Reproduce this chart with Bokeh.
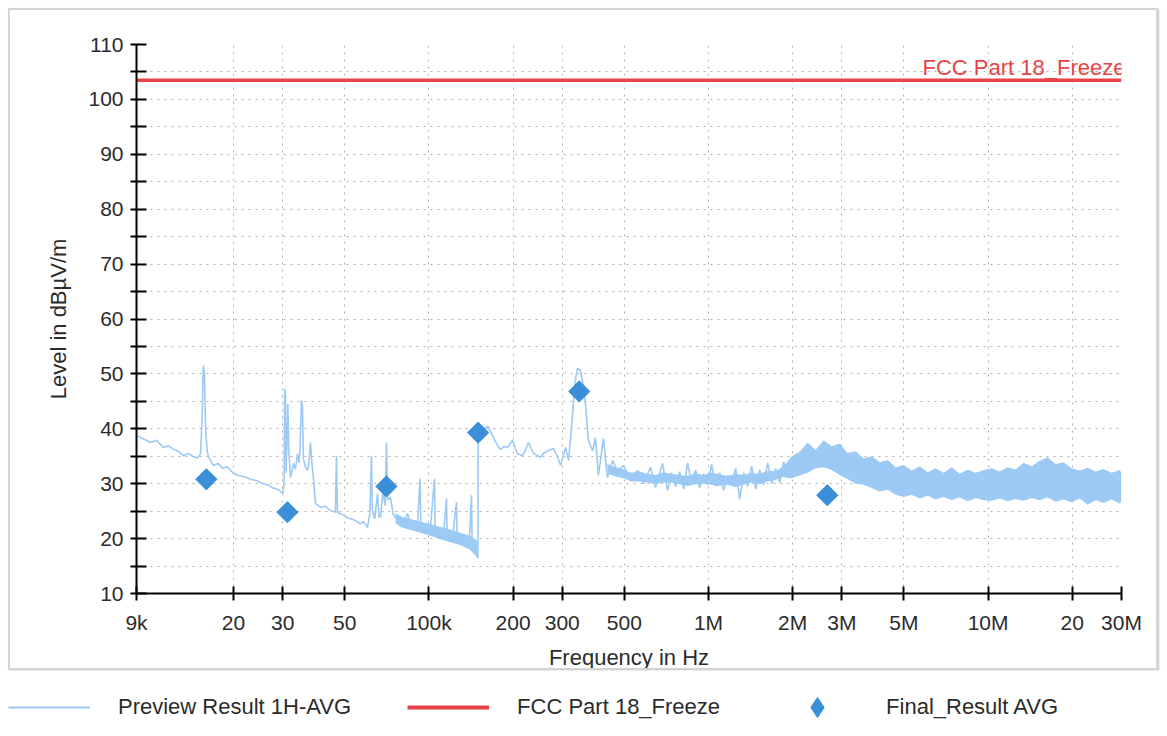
import numpy as np
from bokeh.plotting import figure
from bokeh.models import FixedTicker, Range1d, Legend, LegendItem, Label
from bokeh.layouts import column
from bokeh.embed import file_html
from bokeh.resources import INLINE

# ---------------- data ----------------
x_ticks = [9000, 20000, 30000, 50000, 100000, 200000, 300000, 500000,
           1000000, 2000000, 3000000, 5000000, 10000000, 20000000, 30000000]
x_tick_labels = ["9k", "20", "30", "50", "100k", "200", "300", "500",
                 "1M", "2M", "3M", "5M", "10M", "20", "30M"]
y_ticks = [10, 20, 30, 40, 50, 60, 70, 80, 90, 100, 110]
y_minor_ticks = [15, 25, 35, 45, 55, 65, 75, 85, 95, 105]
y_grid_ticks = [10, 15, 20, 25, 30, 35, 40, 45, 50, 55, 60, 65, 70, 75, 80,
                85, 90, 95, 100, 105, 110]

# Preview Result 1H-AVG (trace, 9 kHz .. 2 MHz)
preview_freq = [
    9000, 9500, 10100, 10600, 11240, 11700, 12200, 12700, 13260, 13800, 14400,
    14900, 15250, 15450, 15600, 15750, 15900, 16100, 16300, 16970, 17600, 18300,
    19000, 19800, 20700, 21800, 23000, 24300, 25600, 26700, 27800, 29000, 30000,
    30350, 30500, 30700, 30850, 31100, 31300, 31550, 32000, 32800, 33300, 33900,
    34300, 34600, 35000, 35300, 35600, 36200, 36800, 37300, 37700, 38200, 38700,
    39300, 40000, 41000, 42500, 44500, 46300, 46700, 47100, 49000, 51200, 53500,
    56900, 58500, 60300, 61500, 62300, 62800, 64000, 65500, 66300, 67100, 68500,
    69800, 70500, 71200, 72900, 74500, 76000, 79200, 81500, 83800, 86000, 88100,
    91000, 93000, 93600, 96000, 98800, 101000, 104700, 105300, 110000, 113000,
    115600, 116200, 119400, 122000, 125500, 126200, 129000, 133000, 137000,
    140000, 142000, 142800, 144400, 147000, 149200, 149800, 150000, 153000,
    157000, 163000, 170000, 175000, 180000, 186000, 191000, 199000, 207000,
    216000, 221000, 227000, 237000, 251000, 258000, 266000, 279000, 288000,
    296000, 308000, 316000, 326000, 333000, 340000, 349000, 356000, 363000,
    372000, 385000, 394000, 404000, 421000, 435000, 454000, 473000, 497000,
    526000, 557000, 586000, 620000, 646000, 685000, 714000, 738000, 763000,
    788000, 815000, 842000, 870000, 899000, 929000, 961000, 993000, 1026000,
    1061000, 1096000, 1133000, 1171000, 1210000, 1251000, 1293000, 1336000,
    1381000, 1427000, 1475000, 1524000, 1575000, 1628000, 1683000, 1739000,
    1797000, 1857000, 1920000, 1984000]
preview_level = [
    38.8, 38.2, 37.5, 37.9, 36.6, 36.9, 36.3, 35.9, 35.1, 35.5, 34.9,
    34.7, 35.4, 42.0, 51.5, 50.2, 40.0, 36.0, 34.8, 33.3, 33.7, 32.8,
    33.1, 32.1, 31.5, 31.3, 30.8, 30.5, 30.0, 29.7, 29.2, 28.9, 28.2,
    30.0, 47.3, 46.0, 32.0, 38.4, 44.5, 36.0, 31.1, 33.7, 32.6, 35.5,
    33.8, 36.0, 45.2, 44.0, 34.5, 33.0, 32.4, 34.2, 37.5, 33.5, 30.6,
    26.4, 26.1, 25.7, 25.9, 25.1, 24.8, 35.1, 24.8, 24.4, 23.8, 23.5,
    22.7, 23.1, 22.0, 24.6, 35.1, 25.0, 23.6, 28.2, 24.0, 23.9, 28.5,
    26.0, 37.5, 27.0, 27.5, 24.5, 23.8, 23.3, 22.6, 24.6, 22.5, 22.0,
    22.4, 30.9, 22.2, 21.5, 22.0, 21.3, 30.9, 21.6, 20.9, 21.3,
    27.3, 20.6, 20.2, 21.0, 26.6, 20.3, 19.8, 20.1, 19.3,
    21.0, 27.9, 19.0, 18.4, 17.6, 16.9, 16.4, 39.3, 39.6,
    40.1, 40.4, 38.4, 37.2, 36.2, 36.8, 36.6, 37.9, 35.5,
    35.1, 36.0, 37.5, 35.5, 34.8, 35.6, 36.0, 36.4, 35.0,
    33.3, 36.6, 34.2, 42.1, 48.5, 51.0, 50.6, 48.0, 44.6,
    37.9, 36.0, 38.4, 31.5, 38.2, 31.1, 34.2, 32.4, 33.3,
    30.6, 32.4, 30.0, 33.0, 29.3, 33.7, 28.8, 32.0, 29.5,
    32.2, 29.0, 33.8, 30.0, 32.5, 29.2, 31.8, 29.8, 33.5,
    29.5, 32.0, 28.8, 31.5, 30.2, 32.8, 27.2, 32.0,
    29.5, 33.2, 29.0, 32.5, 29.8, 33.8, 30.0, 32.8,
    30.2, 34.0, 31.0, 34.8]

# Preview Result 1H-AVG, dense part of the trace 80 kHz .. 150 kHz (envelope)
low_band_freq = [76000, 80000, 90000, 100000, 110000, 120000, 130000, 140000, 149000]
low_band_upper = [24.6, 24.0, 23.3, 22.7, 22.1, 21.6, 21.0, 20.5, 19.6]
low_band_lower = [22.8, 22.0, 21.3, 20.6, 19.9, 19.3, 18.8, 18.0, 16.5]

# Preview Result 1H-AVG, dense part of the trace 435 kHz .. 30 MHz (envelope)
band_freq = [
    435000, 465000, 497000, 530000, 566000, 605000, 646000, 690000, 737000,
    787000, 841000, 898000, 959000, 1024000, 1094000, 1169000, 1248000,
    1333000, 1424000, 1521000, 1625000, 1735000, 1853000,
    1984000, 2119000, 2263000, 2417000, 2582000, 2758000, 2946000, 3146000,
    3360000, 3589000, 3833000, 4094000, 4373000, 4671000, 4989000, 5329000,
    5692000, 6079000, 6493000, 6935000, 7408000, 7912000, 8451000, 9026000,
    9641000, 10300000, 11000000, 11750000, 12550000, 13400000, 14310000,
    15290000, 16330000, 17440000, 18630000, 19900000, 21250000, 22700000,
    24240000, 25890000, 27660000, 29540000, 30000000]
band_upper = [
    33.6, 33.0, 32.6, 32.0, 32.2, 31.8, 31.6, 32.1, 31.8, 31.6, 31.4, 31.9,
    31.6, 32.0, 31.7, 31.4, 31.8, 31.6, 32.0, 31.7, 32.4, 32.2, 33.2,
    35.0, 35.8, 37.5, 36.2, 37.9, 36.8, 37.3, 35.6, 35.9, 34.6, 35.0, 33.9,
    34.3, 33.0, 33.4, 32.4, 33.2, 32.1, 32.8, 32.0, 33.0, 31.8, 32.6, 32.0,
    32.5, 32.8, 32.2, 33.0, 32.6, 33.8, 33.2, 34.2, 34.8, 33.6, 33.9, 32.8,
    32.4, 32.9, 32.2, 32.7, 32.0, 32.5, 32.0]
band_lower = [
    31.8, 31.3, 31.0, 30.4, 30.4, 30.2, 29.9, 30.2, 30.2, 29.9, 29.6, 29.9,
    30.0, 29.8, 29.6, 29.8, 29.4, 29.8, 30.2, 29.9, 30.4, 30.7, 31.2,
    31.0, 31.5, 32.0, 32.8, 33.0, 32.5, 31.6, 30.8, 30.0, 29.8, 29.2, 28.6,
    28.9, 28.0, 27.6, 28.0, 27.3, 27.8, 27.1, 27.6, 27.0, 27.5, 26.8, 27.4,
    27.0, 26.9, 27.3, 26.8, 27.2, 26.9, 27.4, 27.0, 27.5, 26.7, 27.1, 26.6,
    27.3, 26.2, 27.0, 26.5, 27.1, 26.4, 26.8]

# FCC Part 18_Freeze limit
limit_name = "FCC Part 18_Freeze"
limit_freq = [9000, 30000000]
limit_level = [103.5, 103.5]

# Final_Result AVG
final_freq = [16000, 31200, 70500, 150000, 345000, 2660000]
final_level = [30.8, 24.8, 29.5, 39.3, 46.8, 27.9]

series_names = ["Preview Result 1H-AVG", "FCC Part 18_Freeze", "Final_Result AVG"]

# ---------------- styling ----------------
FONT = "Liberation Sans"
TRACE = "#9ccaf5"
RED = "#e84347"
DIAM = "#3a8fd8"
TXT = "#2b2b2b"

p = figure(width=1150, height=662, x_axis_type="log",
           x_range=Range1d(9000, 30000000), y_range=Range1d(10, 110),
           output_backend="svg", toolbar_location=None,
           min_border_left=126, min_border_right=39,
           min_border_top=34, min_border_bottom=79,
           margin=(8, 0, 0, 8), frame_align=False,
           styles={"border": "2px solid #d4d4d4",
                   "box-shadow": "1px 1px 2px #c8c8c8"})
p.outline_line_color = None
p.background_fill_color = "white"

# grid
p.xgrid.ticker = FixedTicker(ticks=x_ticks)
p.ygrid.ticker = FixedTicker(ticks=y_grid_ticks)
for g in (p.xgrid, p.ygrid):
    g.grid_line_color = "#b0b0b0"
    g.grid_line_dash = "2 5"
    g.grid_line_width = 1

# axes
p.xaxis.ticker = FixedTicker(ticks=x_ticks)
p.xaxis.major_label_overrides = dict(zip(x_ticks, x_tick_labels))
p.yaxis.ticker = FixedTicker(ticks=y_ticks, minor_ticks=y_minor_ticks)
p.xaxis.axis_label = "Frequency in Hz"
p.yaxis.axis_label = "Level in dBµV/m"
for ax in (p.xaxis, p.yaxis):
    ax.axis_line_color = "black"
    ax.axis_line_width = 2
    ax.major_tick_line_color = "black"
    ax.major_tick_line_width = 2
    ax.minor_tick_line_color = "black"
    ax.minor_tick_line_width = 2
    ax.major_label_text_font = FONT
    ax.major_label_text_font_size = "21px"
    ax.major_label_text_color = TXT
    ax.axis_label_text_font = FONT
    ax.axis_label_text_font_size = "22px"
    ax.axis_label_text_font_style = "normal"
    ax.axis_label_text_color = TXT
p.xaxis.major_tick_in = 7
p.xaxis.major_tick_out = 7
p.xaxis.minor_tick_in = 0
p.xaxis.minor_tick_out = 0
p.xaxis.major_label_standoff = 10
p.xaxis.axis_label_standoff = 8
p.yaxis.major_tick_in = 10
p.yaxis.major_tick_out = 6
p.yaxis.minor_tick_in = 10
p.yaxis.minor_tick_out = 6
p.yaxis.major_label_standoff = 7
p.yaxis.axis_label_standoff = 14

# glyphs
p.varea(x=band_freq, y1=band_lower, y2=band_upper, fill_color=TRACE, fill_alpha=1.0)
p.varea(x=low_band_freq, y1=low_band_lower, y2=low_band_upper, fill_color=TRACE, fill_alpha=1.0)
p.line(x=preview_freq, y=preview_level, line_color=TRACE, line_width=1.6)
p.line(x=limit_freq, y=limit_level, line_color=RED, line_width=3.5)
p.add_layout(Label(x=limit_freq[-1], y=limit_level[-1], text=limit_name,
                   text_align="right", text_baseline="bottom",
                   x_offset=4, y_offset=0, text_color=RED,
                   text_font=FONT, text_font_size="22px"))
p.scatter(x=final_freq, y=final_level, marker="square", size=15, angle=np.pi / 4,
          fill_color=DIAM, line_color=DIAM)

# ---------------- legend (below the boxed chart) ----------------
# legend renderers reuse the series data; it lies outside this strip's ranges
lg = figure(width=1159, height=62, x_axis_type=None, y_axis_type=None,
            x_range=Range1d(0, 1), y_range=Range1d(0, 1),
            output_backend="svg", toolbar_location=None, frame_align=False,
            min_border_left=0, min_border_right=0,
            min_border_top=0, min_border_bottom=0, margin=(0, 0, 0, 8))
lg.outline_line_color = None
lg.grid.visible = False
r1 = lg.line(x=preview_freq, y=preview_level, line_color=TRACE, line_width=2)
r2 = lg.line(x=limit_freq, y=limit_level, line_color=RED, line_width=4)
r3 = lg.scatter(x=final_freq, y=final_level, marker="diamond", size=15,
                fill_color=DIAM, line_color=DIAM)
legend = Legend(items=[LegendItem(label=series_names[0], renderers=[r1]),
                       LegendItem(label=series_names[1], renderers=[r2]),
                       LegendItem(label=series_names[2], renderers=[r3])],
                orientation="horizontal", location=(0, 0),
                glyph_width=82, glyph_height=50, label_standoff=28, spacing=56,
                padding=0, margin=0, border_line_color=None,
                background_fill_alpha=0,
                label_text_font=FONT, label_text_font_size="22px",
                label_text_color=TXT)
lg.add_layout(legend, "center")

layout = column(p, lg)
open("out.html", "w").write(file_html(layout, INLINE))
